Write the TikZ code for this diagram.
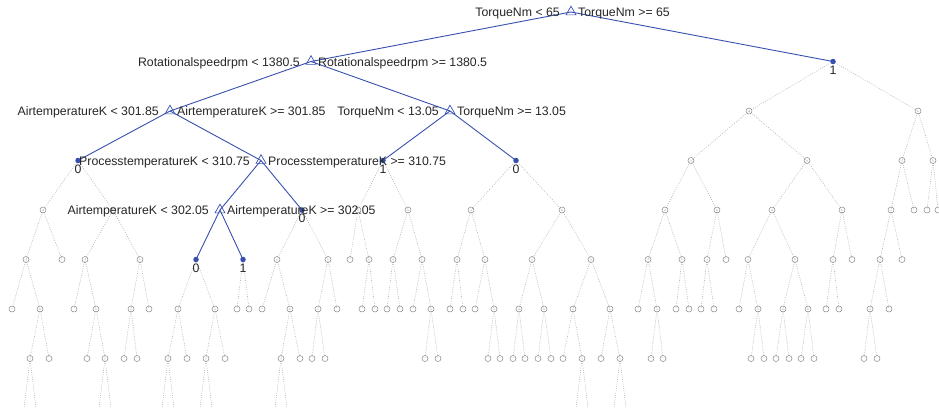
\documentclass[tikz,border=0pt]{standalone}
\usepackage{fontspec}
\setmainfont{Liberation Sans}
\usetikzlibrary{shapes.geometric}
\pgfdeclarelayer{edges}
\pgfsetlayers{edges,main}
\definecolor{pathblue}{RGB}{55,80,175}
\definecolor{txt}{RGB}{38,38,38}
\definecolor{leafgray}{RGB}{135,135,135}
\definecolor{linegray}{RGB}{180,180,180}

% labels of a split node: condition for the left and right branch
\newcommand\splitlbl[3]{%
  \node[lbl,anchor=base east] (#1-lt) at ([shift={(-11,4.5)}]#1.center) {#2};
  \node[lbl,anchor=base west] (#1-rt) at ([shift={(7,4.5)}]#1.center) {#3};}
% class label under a leaf node
\newcommand\leaflbl[2]{%
  \node[lbl,anchor=base] (#1-v) at ([shift={(0,12.5)}]#1.center) {#2};}

\begin{document}
\begin{tikzpicture}[x=1pt,y=-1pt,
  splitnode/.style={regular polygon, regular polygon sides=3, draw=pathblue,
    line width=0.7pt, minimum size=11.5pt, inner sep=0pt},
  leafblue/.style={circle, fill=pathblue, minimum size=5.5pt, inner sep=0pt},
  leafgray/.style={circle, draw=leafgray, line width=0.5pt, minimum size=6pt, inner sep=0pt},
  blueedge/.style={draw=pathblue, line width=0.9pt},
  grayedge/.style={draw=linegray, line width=0.6pt, dash pattern=on 0.9pt off 1.4pt},
  lbl/.style={font=\fontsize{12.3}{14}\selectfont, text=txt, inner sep=0pt},
]
\useasboundingbox (0,0) rectangle (939,407);
\clip (0,0) rectangle (939,407);

% ---- active part of the tree ----
\node[splitnode] (n0-571) at (571,12) {};
\node[splitnode] (n1-311) at (311,61.5) {};
\node[leafblue]  (n1-833) at (833,61.5) {};
\node[splitnode] (n2-170) at (170,111) {};
\node[splitnode] (n2-450) at (450,111) {};
\node[leafblue]  (n3-78)  at (78,160.5) {};
\node[splitnode] (n3-261) at (261,160.5) {};
\node[leafblue]  (n3-383) at (383,160.5) {};
\node[leafblue]  (n3-516) at (516,160.5) {};
\node[splitnode] (n4-220) at (220,210) {};
\node[leafblue]  (n4-302) at (302,210) {};
\node[leafblue]  (n5-196) at (196,259.5) {};
\node[leafblue]  (n5-243) at (243,259.5) {};

% ---- pruned part of the tree ----
\foreach \x in {749,918} \node[leafgray] (n2-\x) at (\x,111) {};
\foreach \x in {691,807,902,933} \node[leafgray] (n3-\x) at (\x,160.5) {};
\foreach \x in {43,113,358,408,471,562,665,717,772,842,891,914,927,938}
  \node[leafgray] (n4-\x) at (\x,210) {};
\foreach \x in {26,62,85,140,277,328,350,369,393,422,457,485,532,591,648,682,
    707,726,748,795,833,852,880,902}
  \node[leafgray] (n5-\x) at (\x,259.5) {};
\foreach \x in {12,40,74,96,131,149,178,215,237,249,262,290,318,337,362,375,
    387,400,413,431,450,463,475,494,519,544,573,610,638,657,676,689,701,714,
    739,758,783,808,826,839,870,889}
  \node[leafgray] (n6-\x) at (\x,309) {};
\foreach \x in {30,49,87,105,124,137,168,187,206,225,281,300,312,325,425,438,
    488,500,513,525,538,551,563,582,601,620,651,663,751,764,776,789,801,814,864,877}
  \node[leafgray] (n7-\x) at (\x,358.5) {};
\foreach \x in {24,36,99,111,162,174,200,212,275,287,576,588,614,626}
  \coordinate (n8-\x) at (\x,408);

\begin{pgfonlayer}{edges}
  % branches below the pruned nodes
  \foreach \l/\p/\c in {
      1/833/749, 1/833/918,
      2/749/691, 2/749/807, 2/918/902, 2/918/933,
      3/78/43, 3/78/113, 3/383/358, 3/383/408, 3/516/471, 3/516/562,
      3/691/665, 3/691/717, 3/807/772, 3/807/842, 3/902/891, 3/902/914,
      3/933/927, 3/933/938,
      4/302/277, 4/302/328, 4/43/26, 4/43/62, 4/113/85, 4/113/140,
      4/358/350, 4/358/369, 4/408/393, 4/408/422, 4/471/457, 4/471/485,
      4/562/532, 4/562/591, 4/665/648, 4/665/682, 4/717/707, 4/717/726,
      4/772/748, 4/772/795, 4/842/833, 4/842/852, 4/891/880, 4/891/902,
      5/26/12, 5/26/40, 5/85/74, 5/85/96, 5/140/131, 5/140/149,
      5/196/178, 5/196/215, 5/243/237, 5/243/249, 5/277/262, 5/277/290,
      5/328/318, 5/328/337, 5/369/362, 5/369/375, 5/393/387, 5/393/400,
      5/422/413, 5/422/431, 5/457/450, 5/457/463, 5/485/475, 5/485/494,
      5/532/519, 5/532/544, 5/591/573, 5/591/610, 5/648/638, 5/648/657,
      5/682/676, 5/682/689, 5/707/701, 5/707/714, 5/748/739, 5/748/758,
      5/795/783, 5/795/808, 5/833/826, 5/833/839, 5/880/870, 5/880/889,
      6/40/30, 6/40/49, 6/96/87, 6/96/105, 6/131/124, 6/131/137,
      6/178/168, 6/178/187, 6/215/206, 6/215/225, 6/290/281, 6/290/300,
      6/318/312, 6/318/325, 6/431/425, 6/431/438, 6/494/488, 6/494/500,
      6/519/513, 6/519/525, 6/544/538, 6/544/551, 6/573/563, 6/573/582,
      6/610/601, 6/610/620, 6/657/651, 6/657/663, 6/758/751, 6/758/764,
      6/783/776, 6/783/789, 6/808/801, 6/808/814, 6/870/864, 6/870/877,
      7/30/24, 7/30/36, 7/105/99, 7/105/111, 7/168/162, 7/168/174,
      7/206/200, 7/206/212, 7/281/275, 7/281/287, 7/582/576, 7/582/588,
      7/620/614, 7/620/626}
  {
    \pgfmathtruncatemacro\cl{\l+1}
    \draw[grayedge] (n\l-\p.center) -- (n\cl-\c.center);
  }
  % branches of the active tree
  \foreach \a/\b in {0-571/1-311, 0-571/1-833, 1-311/2-170, 1-311/2-450,
      2-170/3-78, 2-170/3-261, 2-450/3-383, 2-450/3-516,
      3-261/4-220, 3-261/4-302, 4-220/5-196, 4-220/5-243}
    \draw[blueedge] (n\a.center) -- (n\b.center);
\end{pgfonlayer}

% ---- split conditions ----
\splitlbl{n0-571}{TorqueNm < 65}{TorqueNm >= 65}
\splitlbl{n1-311}{Rotationalspeedrpm < 1380.5}{Rotationalspeedrpm >= 1380.5}
\splitlbl{n2-170}{AirtemperatureK < 301.85}{AirtemperatureK >= 301.85}
\splitlbl{n2-450}{TorqueNm < 13.05}{TorqueNm >= 13.05}
\splitlbl{n3-261}{ProcesstemperatureK < 310.75}{ProcesstemperatureK >= 310.75}
\splitlbl{n4-220}{AirtemperatureK < 302.05}{AirtemperatureK >= 302.05}

% ---- predicted classes ----
\leaflbl{n1-833}{1}
\leaflbl{n3-78}{0}
\leaflbl{n3-383}{1}
\leaflbl{n3-516}{0}
\leaflbl{n4-302}{0}
\leaflbl{n5-196}{0}
\leaflbl{n5-243}{1}
\end{tikzpicture}
\end{document}
